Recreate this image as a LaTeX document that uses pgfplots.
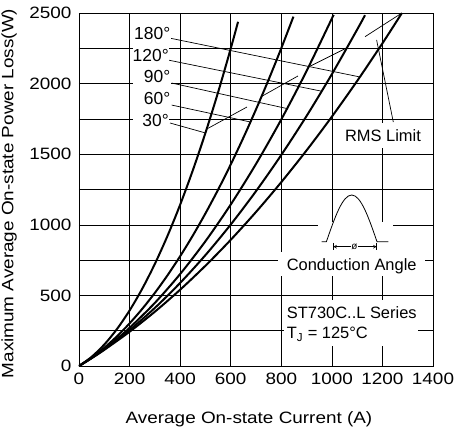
\documentclass[border=0pt]{standalone}
\usepackage{fontspec}
\setmainfont{Liberation Sans}
\newfontfamily\axisfont{Liberation Sans}[FakeStretch=1.15]
\usepackage{pgfplots}
\pgfplotsset{compat=1.18}
\begin{document}
\begin{tikzpicture}
\begin{axis}[
  scale only axis, width=354bp, height=353bp,
  xmin=0, xmax=1400, ymin=0, ymax=2500,
  xtick={0,200,...,1400}, ytick={0,500,...,2500},
  minor ytick={250,750,...,2250},
  grid=both,
  major grid style={black, line width=0.6bp},
  minor grid style={black, line width=0.6bp},
  axis line style={black, line width=0.8bp},
  major tick length=0pt, minor tick length=0pt,
  tick label style={font=\axisfont\fontsize{16.5}{18}\selectfont},
  /pgf/number format/assume math mode=true,
  /pgf/number format/1000 sep={},
  xticklabel style={inner sep=0pt, anchor=north, yshift=-7bp},
  yticklabel style={inner sep=0pt, anchor=east, xshift=-7.3bp},
  xlabel={Average On-state Current (A)},
  ylabel={Maximum Average On-state Power Loss(W)},
  label style={font=\axisfont\fontsize{16.5}{18}\selectfont},
  xlabel style={at={(axis description cs:0.4802,-0.1501)}, anchor=center},
  ylabel style={at={(axis description cs:-0.1977,0.4887)}, anchor=center},
]
% 30 deg
\addplot[black, line width=2bp, smooth] coordinates {(0,0) (50,64.8) (100,151.9) (150,261.3) (200,393.0) (250,546.9) (300,723.1) (350,921.5) (400,1142.2) (450,1385.2) (500,1650.5) (550,1938.0) (600,2247.8) (629,2437.7)};
% 60 deg
\addplot[black, line width=2bp, smooth] coordinates {(0,0) (50,59.1) (100,129.1) (150,210.0) (200,301.8) (250,404.4) (300,517.9) (350,642.2) (400,777.4) (450,923.5) (500,1080.5) (550,1248.3) (600,1427.0) (650,1616.6) (700,1817.1) (750,2028.4) (800,2250.6) (848,2474.2)};
% 90 deg
\addplot[black, line width=2bp, smooth] coordinates {(0,0) (50,57.2) (100,121.3) (150,192.3) (200,270.2) (300,446.9) (400,651.4) (500,883.5) (600,1143.4) (700,1430.9) (800,1746.2) (900,2089.3) (1007,2487.0)};
% 120 deg
\addplot[black, line width=2bp, smooth] coordinates {(0,0) (50,56.2) (100,117.3) (200,254.5) (300,411.5) (400,588.4) (500,785.2) (600,1001.7) (700,1238.2) (800,1494.5) (900,1770.6) (1000,2066.6) (1100,2382.4) (1131,2484.4)};
% 180 deg
\addplot[black, line width=2bp, smooth] coordinates {(0,0) (50,55.4) (100,114.3) (200,242.5) (300,384.5) (400,540.3) (500,710.0) (600,893.4) (700,1090.8) (800,1302.0) (900,1527.0) (1000,1765.8) (1100,2018.5) (1200,2285.0) (1277,2499.6)};
% label pointers
\addplot[black, line width=0.7bp] coordinates {(362.7,2320.8) (1111,2047)};
\addplot[black, line width=0.7bp] coordinates {(352,2167) (960,1946)};
\addplot[black, line width=0.7bp] coordinates {(366.6,2004) (823,1823)};
\addplot[black, line width=0.7bp] coordinates {(366.6,1848) (678,1728)};
\addplot[black, line width=0.7bp] coordinates {(359.9,1721) (500,1650.5)};
% RMS limit segments
\addplot[black, line width=0.7bp] coordinates {(505,1678) (664,1834)};
\addplot[black, line width=0.7bp] coordinates {(722,1909) (866,2054)};
\addplot[black, line width=0.7bp] coordinates {(907,2117) (1060,2254)};
\addplot[black, line width=0.7bp] coordinates {(1131,2332) (1277,2500)};
\addplot[black, line width=0.7bp] coordinates {(1177,2309) (1243,1728)};
\end{axis}
\begin{scope}[x=1bp, y=-1bp, shift={(-79bp,366bp)}]
  % white boxes
  \fill[white] (133.5,24.5) rectangle (171.5,42.5);
  \fill[white] (133.5,46.5) rectangle (169.5,64.5);
  \fill[white] (133.5,68) rectangle (171.5,86);
  \fill[white] (133.5,89.5) rectangle (171.5,107.5);
  \fill[white] (133.5,111.5) rectangle (169.5,129.5);
  \fill[white] (341,123) rectangle (425,148);
  \fill[white] (318,222) rectangle (393,252);
  \fill[white] (278,252) rectangle (425,276);
  \fill[white] (284,300) rectangle (418,346);
  % angle labels
  \begin{scope}[every node/.style={inner sep=0pt, font=\fontsize{17.5}{20}\selectfont}]
    \node[anchor=base east] at (170.5,39.5) {180°};
    \node[anchor=base east] at (169,61.5) {120°};
    \node[anchor=base east] at (170.5,83) {90°};
    \node[anchor=base east] at (170.5,104.5) {60°};
    \node[anchor=base east] at (169,126.5) {30°};
  \end{scope}
  \begin{scope}[every node/.style={inner sep=0pt, font=\fontsize{16.5}{19}\selectfont}]
    \node[anchor=base] at (383,141.7) {RMS Limit};
    \node[anchor=base] at (351.7,270.3) {Conduction Angle};
    \node[anchor=base west] at (286.7,319) {ST730C..L Series};
    \node[anchor=base west] at (286.7,339) {T\textsubscript{J} = 125°C};
  \end{scope}
  % conduction angle sketch
  \draw[line width=0.8bp] (321.7,241.7) -- (326.4,241.7) sin (351.7,195) cos (377,241.7) -- (388.3,241.7);
  \draw[line width=0.6bp, <->, >=stealth] (333.3,246.7) -- (376.7,246.7);
  \draw[line width=0.6bp] (333.3,243) -- (333.3,250);
  \draw[line width=0.6bp] (376.7,243) -- (376.7,250);
  \node[fill=white, inner sep=0.8bp, font=\fontsize{10}{10}\selectfont] at (354.5,246.7) {ø};
\end{scope}
\pgfresetboundingbox
\path (-79bp,-71bp) rectangle (375bp,366bp);
\end{tikzpicture}
\end{document}
